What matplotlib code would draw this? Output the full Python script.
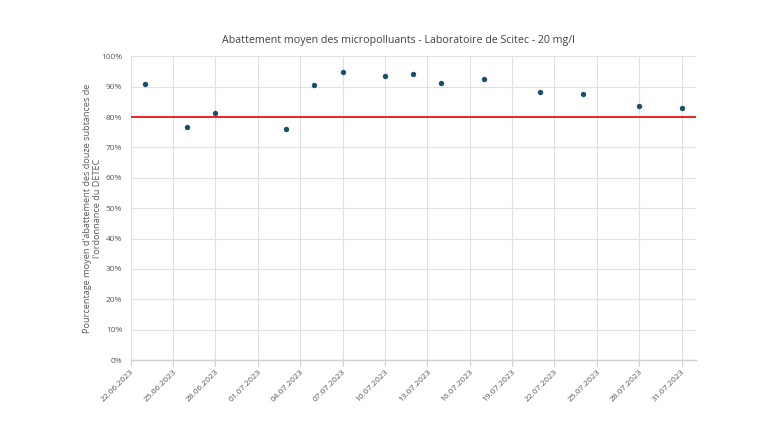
import matplotlib
matplotlib.use("Agg")
import matplotlib.pyplot as plt
import matplotlib.dates as mdates
import pandas as pd
from matplotlib.ticker import PercentFormatter

# measurement dates and mean removal rate (%)
dates = ["23.06.2023", "26.06.2023", "28.06.2023", "03.07.2023", "05.07.2023",
         "07.07.2023", "10.07.2023", "12.07.2023", "14.07.2023", "17.07.2023",
         "21.07.2023", "24.07.2023", "28.07.2023", "31.07.2023"]
abattement = [90.9, 76.8, 81.5, 76.0, 90.6, 94.7, 93.4, 94.1, 91.3, 92.6,
              88.2, 87.6, 83.6, 83.0]

objectif = 80  # target from the ordinance
x_start = "22.06.2023"
x_end = "01.08.2023"

title = "Abattement moyen des micropolluants - Laboratoire de Scitec - 20 mg/l"
ylabel = "Pourcentage moyen d'abattement des douze subtances de\nl'ordonnance du DETEC"

plt.rcParams["font.family"] = ["Open Sans", "DejaVu Sans"]

x = pd.to_datetime(dates, format="%d.%m.%Y")
xmin = pd.to_datetime(x_start, format="%d.%m.%Y")
xmax = pd.to_datetime(x_end, format="%d.%m.%Y")

fig = plt.figure(figsize=(7.6, 4.4), dpi=100)
ax = fig.add_axes([0.1718, 0.1818, 0.9155 - 0.1718, 0.872 - 0.1818])

grid_color = "#e0e0e0"
text_color = "#595959"

ax.axhline(objectif, color="#ee2222", linewidth=1.4, zorder=2)
ax.scatter(x, abattement, s=15, color="#1b4f66", zorder=3, linewidths=0)

ax.set_xlim(xmin, xmax)
ax.set_ylim(0, 100)
ax.set_yticks(range(0, 101, 10))
ax.yaxis.set_major_formatter(PercentFormatter(decimals=0))

ticks = pd.date_range(xmin, xmax, freq="3D")
ax.set_xticks(ticks)
ax.xaxis.set_major_formatter(mdates.DateFormatter("%d.%m.%Y"))
plt.setp(ax.get_xticklabels(), rotation=45, ha="right", rotation_mode="anchor")

ax.grid(True, color=grid_color, linewidth=0.8, zorder=0)
ax.set_axisbelow(True)
for side in ["top", "right", "left"]:
    ax.spines[side].set_visible(False)
ax.spines["bottom"].set_color("#d0d0d0")
ax.spines["bottom"].set_linewidth(1.0)

ax.tick_params(axis="y", length=0, labelsize=6, labelcolor=text_color, pad=6)
ax.tick_params(axis="x", length=4, color="#d0d0d0", labelsize=6,
               labelcolor=text_color, pad=2)

ax.set_ylabel(ylabel, fontsize=6.6, color=text_color, linespacing=1.15)
ax.yaxis.set_label_coords(-0.05, 0.5)

fig.text(0.524, 0.908, title, ha="center", va="center", fontsize=7.7,
         color="#404040")

fig.savefig("out.png", dpi=100)
